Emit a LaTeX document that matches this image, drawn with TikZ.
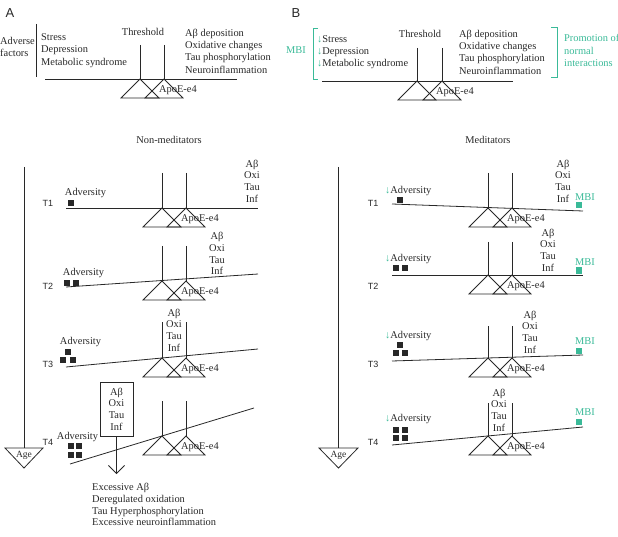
\documentclass[tikz,border=0pt]{standalone}
\usepackage{fontspec}
\setmainfont{Liberation Serif}
\newfontfamily\sansf{Liberation Sans}
\usetikzlibrary{arrows.meta}
\definecolor{mbi}{RGB}{58,186,152}
\definecolor{ink}{RGB}{40,40,40}
\tikzset{
 ln/.style={draw=ink, line width=0.8pt},
 gln/.style={draw=mbi, line width=0.8pt},
 txt/.style={text=ink, inner sep=0pt, font=\fontsize{10.4}{12.3}\selectfont},
 stack/.style={txt, align=center, font=\fontsize{10.4}{11.7}\selectfont},
 tlab/.style={text=ink, inner sep=0pt, font=\sansf\fontsize{9}{10}\selectfont},
 plab/.style={text=ink, inner sep=0pt, font=\sansf\fontsize{13}{14}\selectfont},
 blk/.style={fill=ink, minimum size=6pt, inner sep=0pt},
 grn/.style={fill=mbi, minimum size=6pt, inner sep=0pt},
 mbit/.style={txt, text=mbi},
}
\newcommand\balunit[5]{%
 \coordinate (#5a) at (#1,#3);
 \coordinate (#5b) at (#1+#2,#3);
 \draw[ln] (#1,#4) -- (#5a);
 \draw[ln] (#1+#2,#4) -- (#5b);
 \draw[ln] (#5a) -- ++(-19,19) -- ++(38,0) -- cycle;
 \draw[ln] (#5b) -- ++(-19,19) -- ++(38,0) -- cycle;
 \node[txt] (#5apo) at (#1+38,#3+11) {ApoE-e4};
}
\begin{document}
\begin{tikzpicture}[x=1pt,y=-1pt]
\useasboundingbox (0,0) rectangle (618,537);
\clip (0,0) rectangle (618,537);

% ---------- Panel A top ----------
\node[plab] (lA) at (10,13) {A};
\node[txt,anchor=west,align=left] (adv) at (0,47) {Adverse\\factors};
\coordinate (advT) at (36,24); \coordinate (advB) at (36,77);
\draw[ln] (advT) -- (advB);
\node[txt,anchor=west,align=left] (stressA) at (41,50.5) {Stress\\Depression\\Metabolic syndrome};
\node[txt] (thrA) at (143,32) {Threshold};
\coordinate (bA1) at (45,79); \coordinate (bA2) at (237,79);
\draw[ln] (bA1) -- (bA2);
\balunit{140}{24}{79}{45}{topA}
\node[txt,anchor=west,align=left] (pathA) at (185,51) {Aβ deposition\\Oxidative changes\\Tau phosphorylation\\Neuroinflammation};

% ---------- Panel B top ----------
\node[plab] (lB) at (296,13) {B};
\node[mbit] (mbiB) at (296,50.5) {MBI};
\draw[gln] (318,28) -- (313,28) -- (313,79) -- (318,79);
\node[txt,anchor=west,align=left] (stressB) at (317,52) {{\color{mbi}↓}Stress\\{\color{mbi}↓}Depression\\{\color{mbi}↓}Metabolic syndrome};
\node[txt] (thrB) at (420,34) {Threshold};
\coordinate (bB1) at (322,81); \coordinate (bB2) at (513,81);
\draw[ln] (bB1) -- (bB2);
\balunit{417}{25}{81}{48}{topB}
\node[txt,anchor=west,align=left] (pathB) at (459,52) {Aβ deposition\\Oxidative changes\\Tau phosphorylation\\Neuroinflammation};
\draw[gln] (551,27) -- (557,27) -- (557,77) -- (551,77);
\node[mbit,anchor=west,align=left] (promo) at (564,50.5) {Promotion of\\normal\\interactions};

% ---------- Non-meditators ----------
\node[txt] (nonmed) at (169,140) {Non-meditators};
\coordinate (axL) at (24,167); \coordinate (ageLt) at (24,448);
\draw[ln] (axL) -- (ageLt);
\draw[ln] (5,448) -- (43,448) -- (24,468) -- cycle;
\node[txt,font=\fontsize{9.5}{10}\selectfont] (ageL) at (24,455) {Age};

% T1
\node[tlab] (lT1) at (48,203) {T1};
\node[txt] (ladv1) at (85.5,193) {Adversity};
\node[blk] (l1s1) at (71,203.5) {};
\coordinate (lb1a) at (66,208); \coordinate (lb1b) at (258,208);
\draw[ln] (lb1a) -- (lb1b);
\balunit{162}{24}{208}{173}{lT1u}
\node[stack] (lst1) at (252,181) {Aβ\\Oxi\\Tau\\Inf};

% T2
\node[tlab] (lT2) at (48,286) {T2};
\node[txt] (ladv2) at (83.5,273) {Adversity};
\node[blk] (l2s1) at (67,283) {};
\node[blk] (l2s2) at (76,283) {};
\coordinate (lb2a) at (66,287); \coordinate (lb2b) at (258,274);
\draw[ln] (lb2a) -- (lb2b);
\balunit{162}{24}{281}{246}{lT2u}
\node[stack] (lst2) at (217,253.5) {Aβ\\Oxi\\Tau\\Inf};

% T3
\node[tlab] (lT3) at (48,364) {T3};
\node[txt] (ladv3) at (80.5,342) {Adversity};
\node[blk] (l3s1) at (68,351.5) {};
\node[blk] (l3s2) at (63,359.5) {};
\node[blk] (l3s3) at (72.5,359.5) {};
\coordinate (lb3a) at (66,367); \coordinate (lb3b) at (258,349);
\draw[ln] (lb3a) -- (lb3b);
\balunit{162}{24}{358}{322}{lT3u}
\node[stack] (lst3) at (174,330) {Aβ\\Oxi\\Tau\\Inf};

% T4
\node[tlab] (lT4) at (48,442) {T4};
\node[txt] (ladv4) at (77.5,437) {Adversity};
\node[blk] (l4s1) at (70.5,446) {};
\node[blk] (l4s2) at (79,446) {};
\node[blk] (l4s3) at (70.5,454.5) {};
\node[blk] (l4s4) at (79,454.5) {};
\coordinate (lb4a) at (70,464); \coordinate (lb4b) at (254,408);
\draw[ln] (lb4a) -- (lb4b);
\balunit{162}{24}{436}{401}{lT4u}
\node[stack,draw=ink,line width=0.8pt,minimum width=33pt,minimum height=54pt] (lbox) at (116.5,409) {Aβ\\Oxi\\Tau\\Inf};
\coordinate (arrEnd) at (116.5,474);
\draw[ln,-{Straight Barb[length=8pt,width=16pt]}] (lbox.south) -- (arrEnd);
\node[txt,anchor=west,align=left,font=\fontsize{10.4}{11.8}\selectfont] (excess) at (92,504.5) {Excessive Aβ\\Deregulated oxidation\\Tau Hyperphosphorylation\\Excessive neuroinflammation};

% ---------- Meditators ----------
\node[txt] (med) at (488,140) {Meditators};
\coordinate (axR) at (338.5,167); \coordinate (ageRt) at (338.5,448);
\draw[ln] (axR) -- (ageRt);
\draw[ln] (319,448) -- (358,448) -- (338.5,468) -- cycle;
\node[txt,font=\fontsize{9.5}{10}\selectfont] (ageR) at (338.5,455) {Age};

% T1
\node[tlab] (rT1) at (373,203) {T1};
\node[txt,anchor=west] (radv1) at (385,191) {{\color{mbi}↓}Adversity};
\node[blk] (r1s1) at (399.5,200) {};
\coordinate (rb1a) at (392,204); \coordinate (rb1b) at (583,211);
\draw[ln] (rb1a) -- (rb1b);
\balunit{488}{24}{208}{173}{rT1u}
\node[stack] (rst1) at (563,181) {Aβ\\Oxi\\Tau\\Inf};
\node[mbit] (rm1) at (585,197) {MBI};
\node[grn] (rg1) at (578.5,205.5) {};

% T2
\node[tlab] (rT2) at (373,286) {T2};
\node[txt,anchor=west] (radv2) at (385,259) {{\color{mbi}↓}Adversity};
\node[blk] (r2s1) at (395.5,268) {};
\node[blk] (r2s2) at (405,268) {};
\coordinate (rb2a) at (392,275); \coordinate (rb2b) at (583,275);
\draw[ln] (rb2a) -- (rb2b);
\balunit{488}{24}{275}{242}{rT2u}
\node[stack] (rst2) at (548,250) {Aβ\\Oxi\\Tau\\Inf};
\node[mbit] (rm2) at (585,262) {MBI};
\node[grn] (rg2) at (578.5,270.5) {};

% T3
\node[tlab] (rT3) at (373,364) {T3};
\node[txt,anchor=west] (radv3) at (385,336) {{\color{mbi}↓}Adversity};
\node[blk] (r3s1) at (399.5,344.5) {};
\node[blk] (r3s2) at (395.5,352.5) {};
\node[blk] (r3s3) at (405,352.5) {};
\coordinate (rb3a) at (392,361); \coordinate (rb3b) at (583,355);
\draw[ln] (rb3a) -- (rb3b);
\balunit{488}{24}{358}{326}{rT3u}
\node[stack] (rst3) at (530,332) {Aβ\\Oxi\\Tau\\Inf};
\node[mbit] (rm3) at (585,341) {MBI};
\node[grn] (rg3) at (578.5,350.5) {};

% T4
\node[tlab] (rT4) at (373,442) {T4};
\node[txt,anchor=west] (radv4) at (385,419) {{\color{mbi}↓}Adversity};
\node[blk] (r4s1) at (395.5,429.5) {};
\node[blk] (r4s2) at (405,429.5) {};
\node[blk] (r4s3) at (395.5,438) {};
\node[blk] (r4s4) at (405,438) {};
\coordinate (rb4a) at (392,445); \coordinate (rb4b) at (583,427);
\draw[ln] (rb4a) -- (rb4b);
\balunit{488}{24}{436}{403}{rT4u}
\node[stack] (rst4) at (499,410) {Aβ\\Oxi\\Tau\\Inf};
\node[mbit] (rm4) at (585,412) {MBI};
\node[grn] (rg4) at (578.5,421.5) {};
\end{tikzpicture}
\end{document}
